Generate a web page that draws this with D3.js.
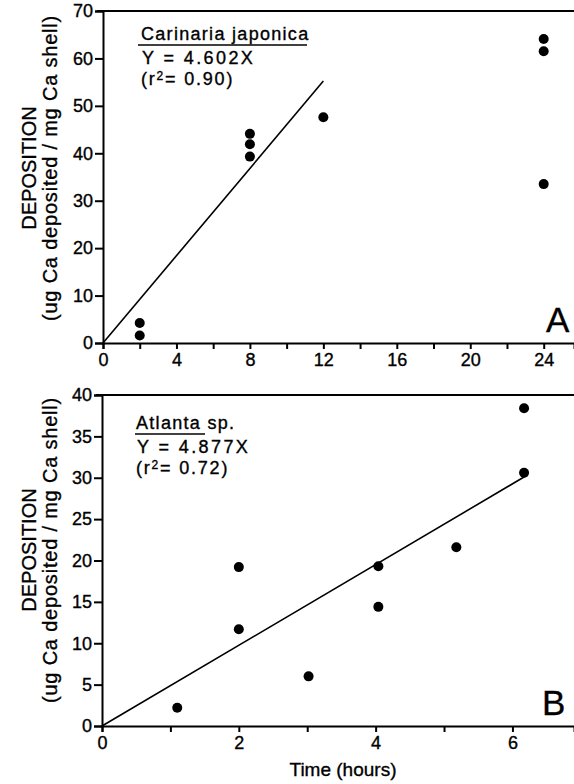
<!DOCTYPE html>
<html>
<head>
<meta charset="utf-8">
<script src="https://cdn.jsdelivr.net/npm/d3@7"></script>
<style>
  body { margin: 0; background: #fff; }
  svg { display: block; font-family: "Liberation Sans", Arial, sans-serif; }
  svg text { stroke: #000; stroke-width: 0.35px; }
  .axis path, .axis line { stroke: #000; stroke-width: 2; }
  .axis text { font-size: 18px; fill: #000; }
</style>
</head>
<body>
<div id="chart"></div>
<script>
// panel A - Carinaria japonica
var hoursA = [2, 2, 8, 8, 8, 12, 24, 24, 24];
var depA = [4.2, 1.6, 44.1, 41.9, 39.3, 47.6, 64.1, 61.5, 33.5];
var slopeA = 4.602, fitEndA = 12;
var xTicksA = [0, 2, 4, 6, 8, 10, 12, 14, 16, 18, 20, 22, 24];
var yTicksA = [0, 10, 20, 30, 40, 50, 60, 70];

// panel B - Atlanta sp.
var hoursB = [1.1, 2, 2, 3.02, 4.04, 4.04, 5.18, 6.17, 6.17];
var depB = [2.2, 19.2, 11.7, 6.0, 19.3, 14.4, 21.6, 38.4, 30.6];
var slopeB = 4.877, fitEndB = 6.2;
var xTicksB = [0, 1, 2, 3, 4, 5, 6];
var yTicksB = [0, 5, 10, 15, 20, 25, 30, 35, 40];

var svg = d3.select("#chart").append("svg")
  .attr("width", 574)
  .attr("height", 784);

function drawPanel(cfg) {
  var x = d3.scaleLinear().domain(cfg.xDomain).range([cfg.left, 574]),
      y = d3.scaleLinear().domain(cfg.yDomain).range([cfg.bottom, cfg.top]);

  var g = svg.append("g");

  // top frame line
  g.append("line")
    .attr("x1", cfg.left - 6).attr("x2", 574)
    .attr("y1", y(cfg.yDomain[1])).attr("y2", y(cfg.yDomain[1]))
    .attr("stroke", "#000").attr("stroke-width", 2);

  g.append("g")
    .attr("class", "axis")
    .attr("transform", "translate(0," + cfg.bottom + ")")
    .call(d3.axisBottom(x).tickValues(cfg.xTicks).tickSizeOuter(0).tickSize(6).tickPadding(4)
      .tickFormat(function(d) { return d % cfg.labelEvery ? "" : d; }));

  g.append("g")
    .attr("class", "axis")
    .attr("transform", "translate(" + cfg.left + ",0)")
    .call(d3.axisLeft(y).tickValues(cfg.yTicks).tickSizeOuter(0).tickSize(8).tickPadding(2));

  // fit line
  g.append("line")
    .attr("x1", x(0)).attr("y1", y(0))
    .attr("x2", x(cfg.fitEnd)).attr("y2", y(cfg.slope * cfg.fitEnd))
    .attr("stroke", "#000").attr("stroke-width", 1.6);

  g.selectAll(".dot")
    .data(cfg.xs)
    .enter().append("circle")
    .attr("cx", function(d) { return x(d); })
    .attr("cy", function(d, i) { return y(cfg.ys[i]); })
    .attr("r", 5)
    .attr("fill", "#000");

  // y label
  var yl = g.append("text")
    .attr("transform", "translate(0," + cfg.labelMid + ") rotate(-90)")
    .attr("text-anchor", "middle")
    .attr("fill", "#000");
  yl.append("tspan").attr("x", 0).attr("y", 36).style("font-size", "20px").text("DEPOSITION");
  yl.append("tspan").attr("x", 0).attr("y", 57).style("font-size", "20px").style("letter-spacing", "0.8px")
    .text("(ug Ca deposited / mg Ca shell)");

  // annotation
  var ax = cfg.noteX, ay = cfg.noteY;
  var title = g.append("text").attr("x", ax).attr("y", ay)
    .style("font-size", "18px").style("letter-spacing", "1.3px").attr("fill", "#000");
  title.append("tspan").text(cfg.name);
  if (cfg.suffix) title.append("tspan").text(cfg.suffix);
  g.append("line")
    .attr("x1", cfg.ulStart).attr("x2", cfg.ulEnd)
    .attr("y1", ay + 5).attr("y2", ay + 5)
    .attr("stroke", "#000").attr("stroke-width", 1.4);

  g.append("text").attr("x", ax + 1).attr("y", ay + 24)
    .style("font-size", "18px").style("letter-spacing", "2.4px").attr("fill", "#000")
    .text(cfg.eq);
  var r2 = g.append("text").attr("x", ax).attr("y", ay + 45)
    .style("font-size", "18px").style("letter-spacing", "1.8px").attr("fill", "#000");
  r2.append("tspan").text("(r");
  r2.append("tspan").attr("dy", -5).style("font-size", "12px").text("2");
  r2.append("tspan").attr("dy", 5).text("= " + cfg.r2 + ")");

  g.append("text")
    .attr("x", cfg.letterX).attr("y", cfg.bottom - 11)
    .style("font-size", "35px").attr("fill", "#000")
    .text(cfg.letter);

  return g;
}

drawPanel({
  xDomain: [0, 25.65], yDomain: [0, 70],
  left: 103, top: 11, bottom: 343,
  xTicks: xTicksA, yTicks: yTicksA, labelEvery: 4,
  xs: hoursA, ys: depA, slope: slopeA, fitEnd: fitEndA,
  labelMid: 168,
  noteX: 141, noteY: 40, name: "Carinaria japonica", ulStart: 138, ulEnd: 307,
  eq: "Y = 4.602X", r2: "0.90",
  letter: "A", letterX: 546
});

var gB = drawPanel({
  xDomain: [0, 6.9], yDomain: [0, 40],
  left: 102, top: 395, bottom: 726,
  xTicks: xTicksB, yTicks: yTicksB, labelEvery: 2,
  xs: hoursB, ys: depB, slope: slopeB, fitEnd: fitEndB,
  labelMid: 550,
  noteX: 136, noteY: 429, name: "Atlanta", suffix: " sp.", ulStart: 135, ulEnd: 205,
  eq: "Y = 4.877X", r2: "0.72",
  letter: "B", letterX: 542
});

gB.append("text")
  .attr("x", 343).attr("y", 776)
  .attr("text-anchor", "middle")
  .style("font-size", "19px").attr("fill", "#000")
  .text("Time (hours)");
</script>
</body>
</html>
